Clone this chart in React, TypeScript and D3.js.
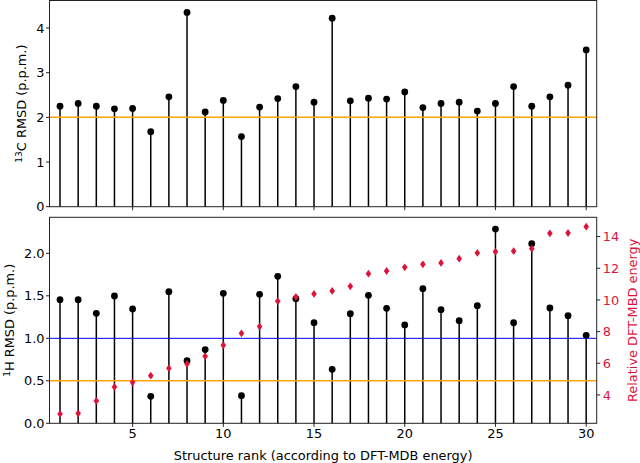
import React from "react";
import * as d3 from "d3";

const ranks = d3.range(1, 31);
const c13Rmsd = [2.25, 2.31, 2.25, 2.19, 2.2, 1.68, 2.46, 4.35, 2.12, 2.38, 1.57, 2.23, 2.42, 2.69, 2.34, 4.22, 2.37, 2.43, 2.41, 2.57, 2.22, 2.31, 2.34, 2.14, 2.31, 2.69, 2.25, 2.46, 2.72, 3.51];
const h1Rmsd = [1.455, 1.455, 1.294, 1.498, 1.345, 0.318, 1.549, 0.737, 0.867, 1.529, 0.325, 1.518, 1.729, 1.467, 1.184, 0.635, 1.29, 1.506, 1.353, 1.157, 1.584, 1.337, 1.208, 1.384, 2.286, 1.184, 2.114, 1.357, 1.267, 1.035];
const relEnergy = [2.8, 2.84, 3.62, 4.51, 4.8, 5.22, 5.68, 5.96, 6.44, 7.14, 7.89, 8.32, 9.92, 10.19, 10.38, 10.57, 10.86, 11.66, 11.83, 12.06, 12.25, 12.34, 12.61, 12.97, 13.05, 13.09, 13.24, 14.21, 14.23, 14.63];
const xTicks = [5, 10, 15, 20, 25, 30];
const topYTicks = [0, 1, 2, 3, 4];
const botYTicks = [0, 0.5, 1.0, 1.5, 2.0];
const rightYTicks = [4, 6, 8, 10, 12, 14];
const topThreshold = 2;
const botThresholds = [{ v: 1.0, color: "#0000ff", w: 1 }, { v: 0.5, color: "#ffa500", w: 1.5 }];

const FONT = "DejaVu Sans, sans-serif";
const FS = 12.9;
const SPINE = "#222";

export default function App() {
  const L = 49.5, R = 596.7;
  const topT = 0.5, topB = 206.7;
  const botT = 217.3, botB = 423.3;
  const x = d3.scaleLinear().domain([0.42, 30.58]).range([L, R]);
  const yTop = d3.scaleLinear().domain([0, 4.616]).range([topB, topT]);
  const yBot = d3.scaleLinear().domain([0, 2.424]).range([botB, botT]);
  const yRight = d3.scaleLinear().domain([2.21, 15.22]).range([botB, botT]);

  const diamond = (cx: number, cy: number) => {
    const w = 2.8, h = 3.9;
    return `M${cx},${cy - h}L${cx + w},${cy}L${cx},${cy + h}L${cx - w},${cy}Z`;
  };

  return (
    <svg width={640} height={463} style={{ position: "absolute", left: 0, top: 0, background: "#fff" }} fontFamily={FONT}>
      {/* Top panel */}
      <g>
        {ranks.map((r, i) => (
          <line key={"ts" + r} x1={x(r)} x2={x(r)} y1={yTop(0)} y2={yTop(c13Rmsd[i])} stroke="#000" strokeWidth={1.5} />
        ))}
        <line x1={L} x2={R} y1={yTop(topThreshold)} y2={yTop(topThreshold)} stroke="#ffa500" strokeWidth={1.5} />
        {ranks.map((r, i) => (
          <circle key={"tc" + r} cx={x(r)} cy={yTop(c13Rmsd[i])} r={3.4} fill="#000" />
        ))}
        <rect x={L} y={topT} width={R - L} height={topB - topT} fill="none" stroke={SPINE} strokeWidth={1} />
        {topYTicks.map((t) => (
          <g key={"tyt" + t}>
            <line x1={L - 3.5} x2={L} y1={yTop(t)} y2={yTop(t)} stroke={SPINE} strokeWidth={1} />
            <text x={L - 5} y={yTop(t)} dy="0.36em" textAnchor="end" fontSize={FS} fill="#000">{t}</text>
          </g>
        ))}
        {xTicks.map((t) => (
          <line key={"txt" + t} x1={x(t)} x2={x(t)} y1={topB} y2={topB + 3.5} stroke={SPINE} strokeWidth={1} />
        ))}
        <text transform={`translate(26.5,${(topT + topB) / 2}) rotate(-90)`} textAnchor="middle" fontSize={FS} fill="#000">
          <tspan fontSize={FS * 0.7} dy="-0.45em">13</tspan>
          <tspan dy="0.31em">C RMSD (p.p.m.)</tspan>
        </text>
      </g>

      {/* Bottom panel */}
      <g>
        {ranks.map((r, i) => (
          <line key={"bs" + r} x1={x(r)} x2={x(r)} y1={yBot(0)} y2={yBot(h1Rmsd[i])} stroke="#000" strokeWidth={1.5} />
        ))}
        {botThresholds.map((h) => (
          <line key={"bh" + h.v} x1={L} x2={R} y1={yBot(h.v)} y2={yBot(h.v)} stroke={h.color} strokeWidth={h.w} />
        ))}
        {ranks.map((r, i) => (
          <circle key={"bc" + r} cx={x(r)} cy={yBot(h1Rmsd[i])} r={3.4} fill="#000" />
        ))}
        {ranks.map((r, i) => (
          <path key={"bd" + r} d={diamond(x(r), yRight(relEnergy[i]))} fill="#dc143c" />
        ))}
        <rect x={L} y={botT} width={R - L} height={botB - botT} fill="none" stroke={SPINE} strokeWidth={1} />
        {botYTicks.map((t) => (
          <g key={"byt" + t}>
            <line x1={L - 3.5} x2={L} y1={yBot(t)} y2={yBot(t)} stroke={SPINE} strokeWidth={1} />
            <text x={L - 5} y={yBot(t)} dy="0.36em" textAnchor="end" fontSize={FS} fill="#000">{t.toFixed(1)}</text>
          </g>
        ))}
        {rightYTicks.map((t) => (
          <g key={"ryt" + t}>
            <line x1={R} x2={R + 3.5} y1={yRight(t)} y2={yRight(t)} stroke={SPINE} strokeWidth={1} />
            <text x={R + 6} y={yRight(t)} dy="0.36em" textAnchor="start" fontSize={FS} fill="#dc143c">{t}</text>
          </g>
        ))}
        {xTicks.map((t) => (
          <g key={"bxt" + t}>
            <line x1={x(t)} x2={x(t)} y1={botB} y2={botB + 3.5} stroke={SPINE} strokeWidth={1} />
            <text x={x(t)} y={botB + 14.5} textAnchor="middle" fontSize={FS} fill="#000">{t}</text>
          </g>
        ))}
        <text transform={`translate(14,${(botT + botB) / 2}) rotate(-90)`} textAnchor="middle" fontSize={FS} fill="#000">
          <tspan fontSize={FS * 0.7} dy="-0.45em">1</tspan>
          <tspan dy="0.31em">H RMSD (p.p.m.)</tspan>
        </text>
        <text transform={`translate(637,${(botT + botB) / 2}) rotate(-90)`} textAnchor="middle" fontSize={FS} fill="#dc143c">
          Relative DFT-MBD energy
        </text>
        <text x={(L + R) / 2} y={459.5} textAnchor="middle" fontSize={FS} fill="#000">
          Structure rank (according to DFT-MDB energy)
        </text>
      </g>
    </svg>
  );
}
